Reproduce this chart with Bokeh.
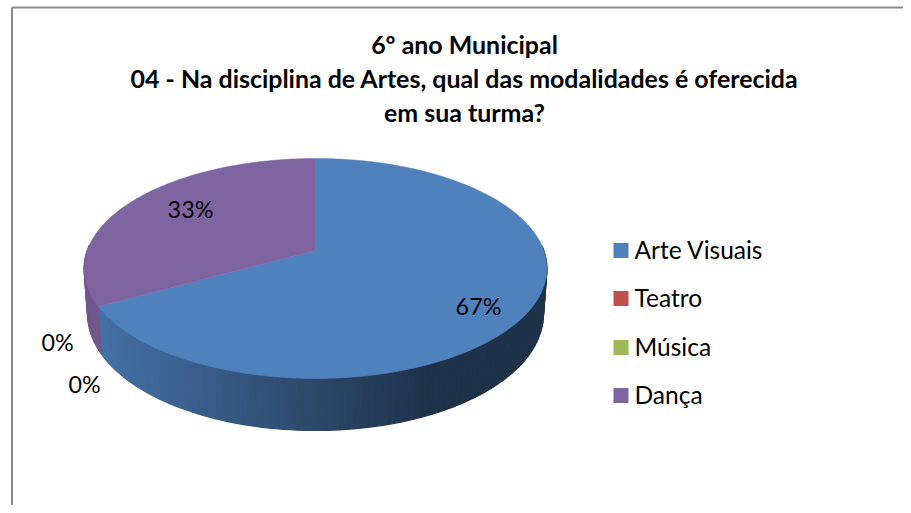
import math
from bokeh.plotting import figure
from bokeh.embed import file_html
from bokeh.resources import INLINE
from bokeh.core.properties import value

categories = ["Arte Visuais", "Teatro", "Música", "Dança"]
values = [67, 0, 0, 33]
labels = ["67%", "0%", "0%", "33%"]
colors = ["#4F81BD", "#C0504D", "#9BBB59", "#8064A2"]
title_lines = ["6º ano Municipal",
               "04 - Na disciplina de Artes, qual das modalidades é oferecida",
               "em sua turma?"]
FONT = "Lato"

CX, CY, C, K, A = 315.0, 250.0, 228.3, 0.1636, -66.15


def project(theta, bottom=False):
    u, v = math.sin(theta), math.cos(theta)
    w = 1 + K * v
    x = C * u / w
    y = (A * v + CY) / w
    if bottom:
        return CX + x * 0.985, y + 44 - 8 * v
    return CX + x, y


def mix(c, f):
    r, g, b = int(c[1:3], 16), int(c[3:5], 16), int(c[5:7], 16)
    return "#%02x%02x%02x" % (int(r * f), int(g * f), int(b * f))


p = figure(width=903, height=505, x_range=(0, 903), y_range=(505, 0),
           toolbar_location=None, output_backend="svg",
           min_border=0, outline_line_color=None)
p.xaxis.visible = False
p.yaxis.visible = False
p.xgrid.visible = False
p.ygrid.visible = False

p.line([11.5, 11.5], [505, 7], line_color="#8c8c8c", line_width=2)
p.line([11.5, 903], [7, 7], line_color="#8c8c8c", line_width=2)

total = sum(values)
bounds = []
acc = 0
for val in values:
    bounds.append((acc / total * 2 * math.pi, (acc + val) / total * 2 * math.pi))
    acc += val

for (a0, a1), col, val in zip(bounds, colors, values):
    if val == 0:
        continue
    n = max(2, int((a1 - a0) / math.radians(1.5)))
    for i in range(n):
        t0 = a0 + (a1 - a0) * i / n
        t1 = a0 + (a1 - a0) * (i + 1) / n
        tm = (t0 + t1) / 2
        if math.cos(tm) > 0.05:
            continue
        x00, y00 = project(t0)
        x01, y01 = project(t1)
        x11, y11 = project(t1, True)
        x10, y10 = project(t0, True)
        xm = (x00 + x01) / 2
        if col == colors[0]:
            f = max(0.39, 0.87 - 0.48 * (xm - 103) / 327)
        else:
            f = 0.88
        cc = mix(col, f)
        p.patch([x00, x01, x11, x10], [y00, y01, y11, y10],
                fill_color=cc, line_color=cc, line_width=1.2)

for (a0, a1), col, val in zip(bounds, colors, values):
    if val == 0:
        continue
    n = max(2, int((a1 - a0) / math.radians(1)))
    pts = [project(a0 + (a1 - a0) * i / n) for i in range(n + 1)]
    xs = [CX] + [q[0] for q in pts]
    ys = [CY] + [q[1] for q in pts]
    p.patch(xs, ys, fill_color=col, line_color=col, line_width=0.5)

label_x = [478, 57, 84, 190]
label_y = [305, 341, 383, 208]
p.text(label_x, label_y, text=labels, text_font=value(FONT), text_font_size="17.5pt",
       text_align="center", text_baseline="middle", text_color="#000000")

for t, yy in zip(title_lines, [43, 77, 111]):
    p.text([464], [yy], text=[t], text_font=value(FONT), text_font_size="18.7pt",
           text_font_style="bold", text_align="center", text_baseline="middle",
           text_color="#000000")

leg_y = [250, 298, 347, 395]
for c, name, yy in zip(colors, categories, leg_y):
    p.quad(left=[613], right=[628], top=[yy - 7.5], bottom=[yy + 7.5],
           fill_color=c, line_color=None)
    p.text([634], [yy - 1.5], text=[name], text_font=value(FONT), text_font_size="18.4pt",
           text_align="left", text_baseline="middle", text_color="#000000")

open("out.html", "w").write(file_html(p, INLINE))
